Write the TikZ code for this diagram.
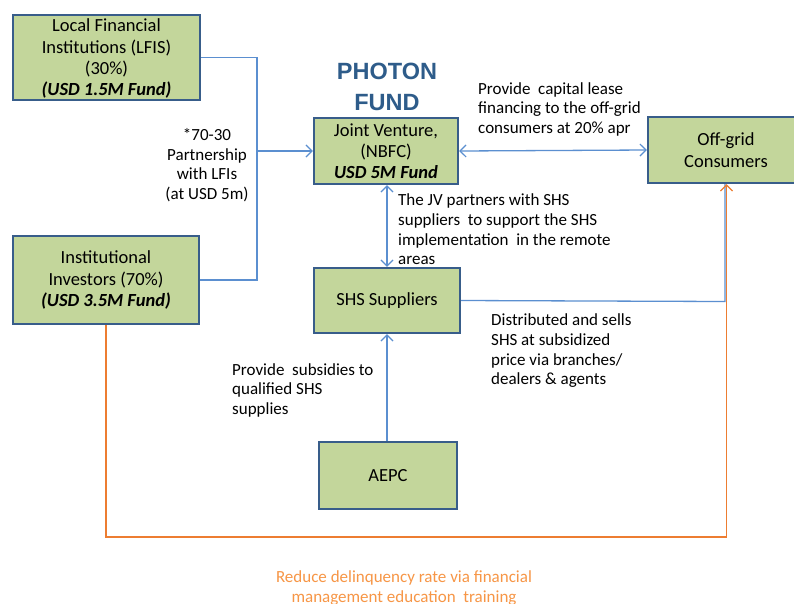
\documentclass[tikz,border=0pt]{standalone}
\usepackage{fontspec}
\setmainfont{Carlito}
\newfontfamily\titlefont{Liberation Sans}
\usetikzlibrary{arrows.meta}
\definecolor{boxfill}{HTML}{C3D69B}
\definecolor{boxline}{HTML}{385D8A}
\definecolor{conblue}{HTML}{5B8FD0}
\definecolor{conorange}{HTML}{ED7D31}
\definecolor{txtorange}{HTML}{F79646}
\definecolor{titleblue}{HTML}{2E5C8A}
\tikzset{
  box/.style={draw=boxline, fill=boxfill, line width=2.4pt, inner sep=0pt, align=center,
    font=\fontsize{18.5}{21.3}\selectfont},
  lbl/.style={inner sep=0pt, font=\fontsize{17}{19.8}\selectfont},
  bcon/.style={draw=conblue, line width=1.3pt},
  ocon/.style={draw=conorange, line width=1.6pt},
  tip/.style={-{Straight Barb[length=6pt,width=12pt,line width=1.2pt]}},
  dtip/.style={{Straight Barb[length=6pt,width=12pt,line width=1.2pt]}-{Straight Barb[length=6pt,width=12pt,line width=1.2pt]}}
}
\begin{document}
\begin{tikzpicture}[x=1pt,y=-1pt]
\useasboundingbox[fill=white] (0,0) rectangle (794,603);
% boxes
\node[box, minimum width=187pt, minimum height=85pt, text depth=0pt] (lfi) at (106.5,57.5)
  {Local Financial\\Institutions (LFIS)\\(30\%)\\\textbf{\textit{(USD 1.5M Fund)}}};
\node[box, minimum width=186pt, minimum height=88pt] (inst) at (106,280)
  {Institutional\\Investors (70\%)\\\textbf{\textit{(USD 3.5M Fund)}}};
\node[box, minimum width=144pt, minimum height=66pt] (jv) at (386,151)
  {Joint Venture,\\(NBFC)\\\textbf{\textit{USD 5M Fund}}};
\node[box, minimum width=156pt, minimum height=66pt] (off) at (726,150)
  {Off-grid\\Consumers};
\node[box, minimum width=146pt, minimum height=65pt] (shs) at (387,300.5)
  {SHS Suppliers};
\node[box, minimum width=138pt, minimum height=67pt] (aepc) at (388,475.5)
  {AEPC};
% title
\node[inner sep=0pt, align=center, text=titleblue, font=\titlefont\bfseries\fontsize{23.5}{31}\selectfont] (title) at (387,86.5) {PHOTON\\FUND};
% connectors
\coordinate (j) at (257,151);
\coordinate (sj) at (725,301.5);
\coordinate (ob) at (726.5,537);
\coordinate (ib) at (106,537);
\draw[bcon] (lfi.east) -| (j) |- (inst.east);
\draw[bcon, tip] (j) -- (jv.west);
\draw[bcon, dtip] (jv.east) -- (off.west);
\draw[bcon, dtip] (jv.south -| shs.north) -- (shs.north);
\draw[bcon, tip] (aepc.north -| shs.south) -- (shs.south);
\draw[bcon] (shs.east) -- (sj) -- (sj |- off.south);
\draw[ocon] (inst.south) -- (ib) -- (ob);
\draw[ocon, tip] (ob) -- (ob |- off.south);
% labels
\node[lbl, align=center, anchor=north] (l1) at (207,128) {*70-30\\Partnership\\with LFIs\\(at USD 5m)};
\node[lbl, align=left, anchor=north west] (l2) at (478,82) {Provide\ \ capital lease\\financing to the off-grid\\consumers at 20\% apr};
\node[lbl, align=left, anchor=north west] (l3) at (398,193.5) {The JV partners with SHS\\suppliers\ \ to support the SHS\\implementation\ \ in the remote\\areas};
\node[lbl, align=left, anchor=north west] (l4) at (491,313.5) {Distributed and sells\\SHS at subsidized\\price via branches/\\dealers \& agents};
\node[lbl, align=left, anchor=north west] (l5) at (232,363) {Provide\ \ subsidies to\\qualified SHS\\supplies};
\node[lbl, align=center, anchor=north, text=txtorange, font=\fontsize{17}{20.5}\selectfont] (l6) at (404,570) {Reduce delinquency rate via financial\\management education\ \ training};
\end{tikzpicture}
\end{document}
